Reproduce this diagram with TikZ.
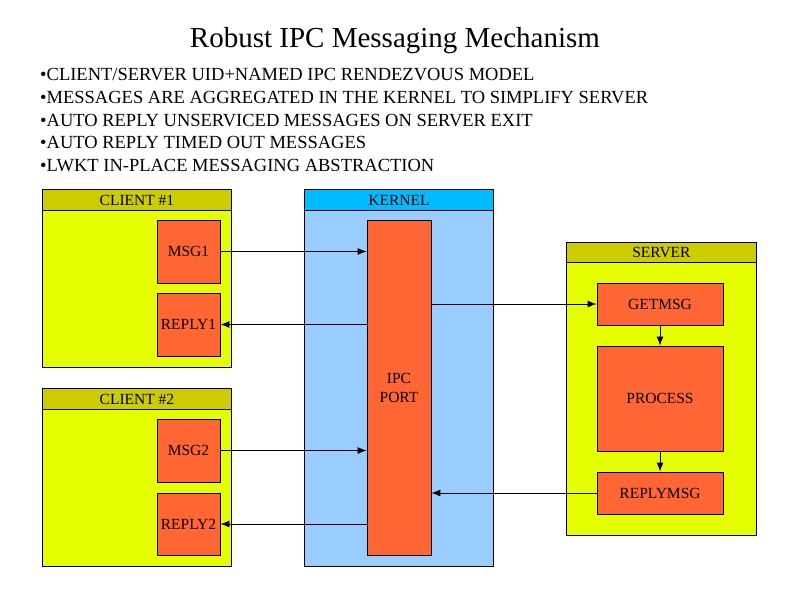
\documentclass[tikz,border=0pt]{standalone}
\usepackage{fontspec}
\setmainfont{Liberation Serif}
\usetikzlibrary{arrows.meta}

\definecolor{clientfill}{RGB}{229,255,0}
\definecolor{clienthead}{RGB}{204,204,0}
\definecolor{kernelfill}{RGB}{153,204,255}
\definecolor{kernelhead}{RGB}{0,187,255}
\definecolor{boxfill}{RGB}{255,102,51}

\begin{document}
\begin{tikzpicture}[x=1pt, y=-1pt]
    % Styles
    \tikzstyle{group} = [rectangle, draw, line width=0.9pt, anchor=north west, inner sep=0pt]
    \tikzstyle{head} = [rectangle, draw, line width=0.9pt, anchor=north west, inner sep=0pt, minimum height=21pt, font=\fontsize{15.5}{15.5}\selectfont]
    \tikzstyle{block} = [rectangle, draw, line width=0.9pt, fill=boxfill, text centered, inner sep=0pt, font=\fontsize{15.5}{19}\selectfont]
    \tikzstyle{line} = [draw, -{Latex[length=9pt, width=7pt]}, line width=0.9pt]

    \useasboundingbox (0,0) rectangle (800,597);
    \fill[white] (0,0) rectangle (800,597);

    % Title and bullets
    \node (title) at (395,41) {\fontsize{29}{29}\selectfont Robust IPC Messaging Mechanism};
    \node [anchor=north west, inner sep=0pt, align=left, font=\fontsize{18.5}{22.8}\selectfont] (points) at (40,68)
        {•CLIENT/SERVER UID+NAMED IPC RENDEZVOUS MODEL\\
         •MESSAGES ARE AGGREGATED IN THE KERNEL TO SIMPLIFY SERVER\\
         •AUTO REPLY UNSERVICED MESSAGES ON SERVER EXIT\\
         •AUTO REPLY TIMED OUT MESSAGES\\
         •LWKT IN-PLACE MESSAGING ABSTRACTION};

    % Groups
    \node [group, fill=clientfill, minimum width=189pt, minimum height=178pt] (client1) at (42,189) {};
    \node [head, fill=clienthead, minimum width=189pt] (client1head) at (42,189) {CLIENT \#1};
    \node [group, fill=clientfill, minimum width=189pt, minimum height=178pt] (client2) at (42,388) {};
    \node [head, fill=clienthead, minimum width=189pt] (client2head) at (42,388) {CLIENT \#2};
    \node [group, fill=kernelfill, minimum width=189pt, minimum height=377pt] (kernel) at (304,189) {};
    \node [head, fill=kernelhead, minimum width=189pt] (kernelhead) at (304,189) {KERNEL};
    \node [group, fill=clientfill, minimum width=190pt, minimum height=293pt] (server) at (566,242) {};
    \node [head, fill=clienthead, minimum width=190pt, minimum height=20pt] (serverhead) at (566,242) {SERVER};

    % Nodes
    \node [block, minimum width=63pt, minimum height=63pt] (msg1) at (188.5,251.5) {MSG1};
    \node [block, minimum width=63pt, minimum height=63pt] (reply1) at (188.5,324.5) {REPLY1};
    \node [block, minimum width=63pt, minimum height=63pt] (msg2) at (188.5,450.5) {MSG2};
    \node [block, minimum width=63pt, minimum height=62pt] (reply2) at (188.5,524) {REPLY2};
    \node [block, minimum width=64pt, minimum height=335pt, align=center] (port) at (399,387.5) {IPC\\PORT};
    \node [block, minimum width=126pt, minimum height=42pt] (getmsg) at (660,304) {GETMSG};
    \node [block, minimum width=126pt, minimum height=105pt] (process) at (660,398.5) {PROCESS};
    \node [block, minimum width=126pt, minimum height=42pt] (replymsg) at (660,493) {REPLYMSG};

    % Connections
    \path [line] (msg1) -- (msg1 -| port.west);
    \path [line] (reply1 -| port.west) -- (reply1);
    \path [line] (msg2) -- (msg2 -| port.west);
    \path [line] (reply2 -| port.west) -- (reply2);
    \path [line] (getmsg -| port.east) -- (getmsg);
    \path [line] (replymsg) -- (replymsg -| port.east);
    \path [line] (getmsg) -- (process);
    \path [line] (process) -- (replymsg);

\end{tikzpicture}
\end{document}
